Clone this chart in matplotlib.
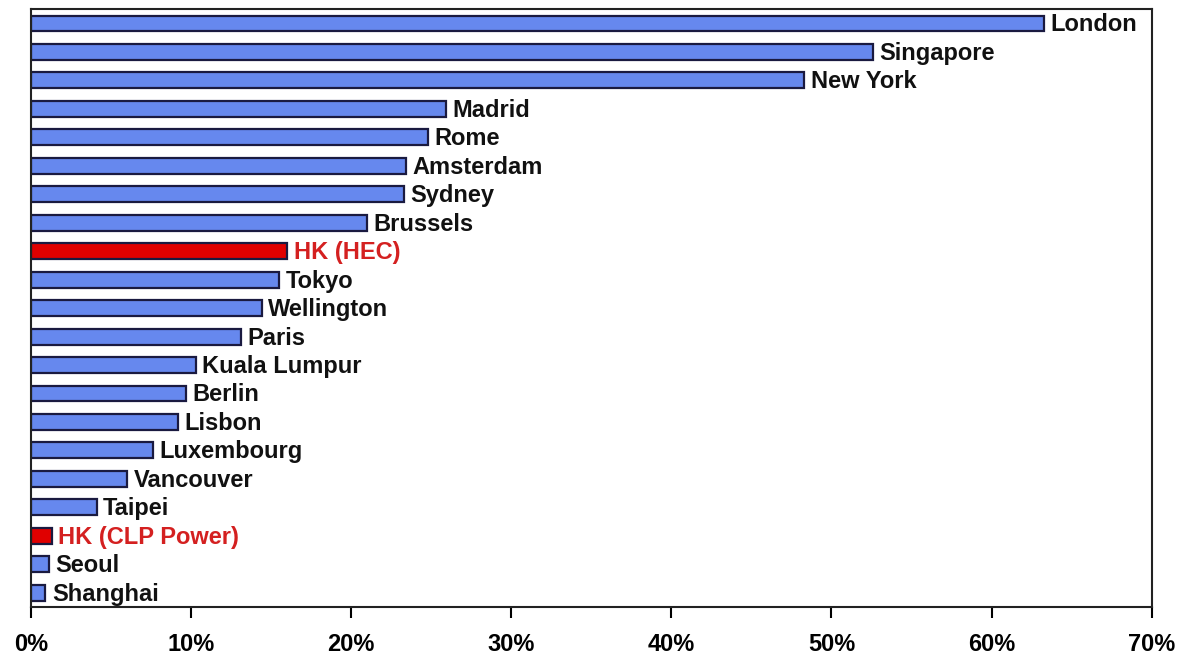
import matplotlib.pyplot as plt

plt.rcParams['font.family'] = ['Liberation Sans', 'DejaVu Sans']

cities = ["London", "Singapore", "New York", "Madrid", "Rome", "Amsterdam", "Sydney",
          "Brussels", "HK (HEC)", "Tokyo", "Wellington", "Paris", "Kuala Lumpur", "Berlin",
          "Lisbon", "Luxembourg", "Vancouver", "Taipei", "HK (CLP Power)", "Seoul", "Shanghai"]
values = [63.3, 52.6, 48.3, 25.9, 24.8, 23.4, 23.3, 21.0, 16.0, 15.5, 14.4, 13.1,
          10.3, 9.7, 9.2, 7.6, 6.0, 4.1, 1.3, 1.1, 0.9]
highlight = ["HK (HEC)", "HK (CLP Power)"]

fig = plt.figure(figsize=(11.91, 6.63), dpi=100)
ax = fig.add_axes([0.026, 0.0845, 0.941, 0.9015])

ypos = list(range(len(cities)))
colors = ["#e00000" if c in highlight else "#6688ee" for c in cities]
ax.barh(ypos, values, height=0.56, color=colors, edgecolor="#1a1a40", linewidth=1.6)

for y, v, c in zip(ypos, values, cities):
    tc = "#d42020" if c in highlight else "#111111"
    ax.text(v + 0.4, y + 0.05, c, va="center", ha="left", fontsize=17, fontweight="bold", color=tc)

ax.set_ylim(len(cities) - 0.5, -0.5)
ax.set_xlim(0, 70)
ax.set_yticks([])
ax.set_xticks(range(0, 71, 10))
ax.set_xticklabels([f"{t}%" for t in range(0, 71, 10)], fontsize=17, fontweight="bold")
ax.tick_params(axis="x", direction="out", length=8, width=1.5, pad=11)
for s in ax.spines.values():
    s.set_linewidth(1.5)
    s.set_color("#222222")

fig.savefig("out.png", dpi=100)
